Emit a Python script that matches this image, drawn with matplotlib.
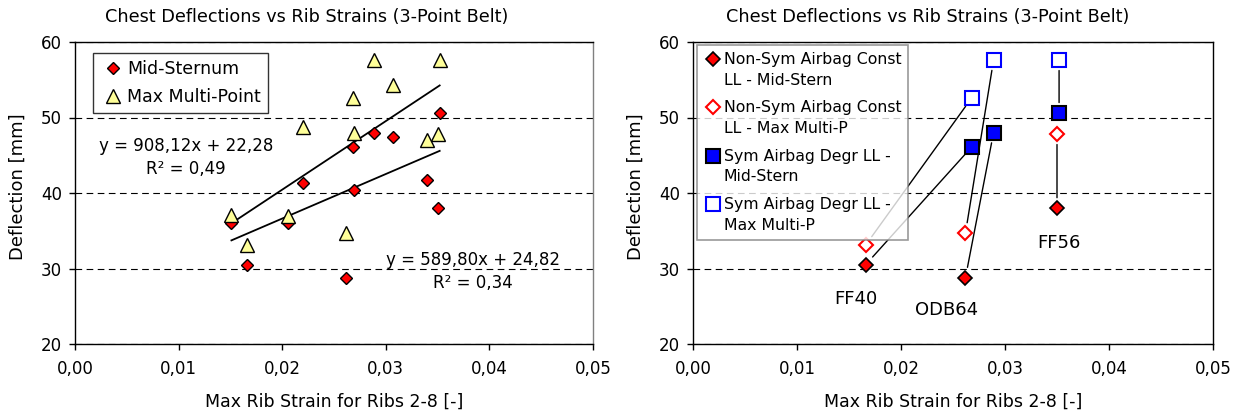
import numpy as np
import matplotlib.pyplot as plt
from matplotlib.legend_handler import HandlerLine2D
from matplotlib.ticker import FuncFormatter, MultipleLocator

# all 3-point belt tests: max rib strain (ribs 2-8) vs chest deflection [mm]
rib_strain = [0.0151, 0.0166, 0.0206, 0.0220, 0.0262, 0.0268,
              0.0269, 0.0289, 0.0307, 0.0340, 0.0350, 0.0352]
mid_sternum = [36.0, 30.5, 36.0, 41.3, 28.8, 46.1,
               40.4, 48.0, 47.4, 41.7, 38.0, 50.6]
max_multi_point = [37.1, 33.1, 36.9, 48.8, 34.7, 52.6,
                   47.9, 57.6, 54.3, 47.0, 47.8, 57.6]

# linear trend lines (slope, intercept, R^2)
fit_max = (908.12, 22.28, 0.49)
fit_mid = (589.80, 24.82, 0.34)

# airbag comparison per load case
tests = ['FF40', 'ODB64', 'FF56']
nonsym_strain = [0.0166, 0.0262, 0.0350]
nonsym_mid = [30.5, 28.8, 38.0]
nonsym_max = [33.1, 34.7, 47.8]
sym_strain = [0.0268, 0.0289, 0.0352]
sym_mid = [46.1, 48.0, 50.6]
sym_max = [52.6, 57.6, 57.6]
# 'across' links non-sym to sym, 'vertical' links mid to max of the same airbag
link_mode = ['across', 'across', 'vertical']
name_offsets = [(-7, -24.5), (-13.5, -23), (1.5, -25)]

title = 'Chest Deflections vs Rib Strains (3-Point Belt)'
W, H = 1241, 416


def comma_fmt(v, _):
    return f'{v:.2f}'.replace('.', ',')


def style_axes(ax, right_color):
    ax.set_xlim(0, 0.05)
    ax.set_ylim(20, 60)
    ax.xaxis.set_major_locator(MultipleLocator(0.01))
    ax.yaxis.set_major_locator(MultipleLocator(10))
    ax.xaxis.set_major_formatter(FuncFormatter(comma_fmt))
    ax.tick_params(direction='out', length=4.5, width=1, labelsize=12)
    ax.tick_params(axis='x', pad=7)
    ax.tick_params(axis='y', pad=5)
    ax.yaxis.grid(True, color='black', ls=(0, (6, 4)), lw=0.8)
    ax.set_axisbelow(True)
    for s in ['left', 'bottom', 'top']:
        ax.spines[s].set_color('black')
        ax.spines[s].set_linewidth(1.0)
    ax.spines['right'].set_color(right_color)
    ax.spines['right'].set_linewidth(1.0)
    ax.set_xlabel('Max Rib Strain for Ribs 2-8 [-]', fontsize=12.5, va='center')
    ax.xaxis.set_label_coords(0.5, -0.192)
    ax.set_ylabel('Deflection [mm]', fontsize=13, va='center')
    ax.yaxis.set_label_coords(-0.110, 0.52)


class FirstLineHandler(HandlerLine2D):
    # put the legend marker next to the first line of a two-line label
    def create_artists(self, legend, orig_handle, xdescent, ydescent,
                       width, height, fontsize, trans):
        arts = super().create_artists(legend, orig_handle, xdescent, ydescent,
                                      width, height, fontsize, trans)
        for a in arts:
            a.set_ydata(np.asarray(a.get_ydata()) + 0.72 * fontsize)
        return arts


fig = plt.figure(figsize=(W / 100, H / 100), dpi=100)
ax1 = fig.add_axes([75 / W, 72 / H, 518 / W, 302 / H])
ax2 = fig.add_axes([693 / W, 72 / H, 520 / W, 302 / H])

# ---- left: all tests with trend lines
style_axes(ax1, '#808080')
xs = np.array([min(rib_strain), max(rib_strain)])
for slope, icept, _ in (fit_max, fit_mid):
    ax1.plot(xs, slope * xs + icept, color='black', lw=1.3, zorder=2)
ax1.plot(rib_strain, mid_sternum, ls='none', marker='D', ms=6.3,
         mfc='#FF0000', mec='black', mew=1.0, zorder=3, label='Mid-Sternum')
ax1.plot(rib_strain, max_multi_point, ls='none', marker='^', ms=9.5,
         mfc='#FFFF99', mec='black', mew=1.0, zorder=4, label='Max Multi-Point')

for (slope, icept, r2), (tx, ty) in zip((fit_max, fit_mid), ((0.01072, 44.7), (0.0384, 29.6))):
    eq = f'y = {slope:.2f}x + {icept:.2f}'.replace('.', ',')
    rr = f'R² = {r2:.2f}'.replace('.', ',')
    ax1.text(tx, ty, eq + '\n' + rr, fontsize=12, ha='center', va='center',
             multialignment='center', linespacing=1.35, zorder=5)

leg1 = ax1.legend(loc='upper left', bbox_to_anchor=(0.0347, 0.9636), borderaxespad=0,
                  fontsize=12.5, frameon=True, fancybox=False, edgecolor='black',
                  borderpad=0.4, handlelength=1.45, handletextpad=0.1,
                  labelspacing=0.6, numpoints=1)
leg1.get_frame().set_linewidth(1.0)

# ---- right: non-symmetric vs symmetric airbag
style_axes(ax2, 'black')
link_kw = dict(arrowstyle='-', color='black', lw=1.0, shrinkA=7.5, shrinkB=7.5)
for i, mode in enumerate(link_mode):
    if mode == 'across':
        pairs = [((nonsym_strain[i], nonsym_mid[i]), (sym_strain[i], sym_mid[i])),
                 ((nonsym_strain[i], nonsym_max[i]), (sym_strain[i], sym_max[i]))]
    else:
        pairs = [((nonsym_strain[i], nonsym_mid[i]), (nonsym_strain[i], nonsym_max[i])),
                 ((sym_strain[i], sym_mid[i]), (sym_strain[i], sym_max[i]))]
    for p0, p1 in pairs:
        ax2.annotate('', xy=p1, xytext=p0, arrowprops=link_kw, zorder=2)

ax2.plot(nonsym_strain, nonsym_mid, ls='none', marker='D', ms=6.8, mfc='#FF0000',
         mec='black', mew=1.2, zorder=3, label='Non-Sym Airbag Const\nLL - Mid-Stern')
ax2.plot(nonsym_strain, nonsym_max, ls='none', marker='D', ms=6.8, mfc='white',
         mec='#FF0000', mew=1.5, zorder=3, label='Non-Sym Airbag Const\nLL - Max Multi-P')
ax2.plot(sym_strain, sym_mid, ls='none', marker='s', ms=9.5, mfc='#0000FF',
         mec='black', mew=1.5, zorder=3, label='Sym Airbag Degr LL -\nMid-Stern')
ax2.plot(sym_strain, sym_max, ls='none', marker='s', ms=9.5, mfc='white',
         mec='#0000FF', mew=1.5, zorder=3, label='Sym Airbag Degr LL -\nMax Multi-P')

for name, x, y, off in zip(tests, nonsym_strain, nonsym_mid, name_offsets):
    ax2.annotate(name, (x, y), xytext=off, textcoords='offset points',
                 fontsize=13, ha='center', va='center')

handles, labels = ax2.get_legend_handles_labels()
leg2 = ax2.legend(handles, labels, loc='upper left', bbox_to_anchor=(0.0077, 0.99),
                  borderaxespad=0, fontsize=11.3, frameon=True, fancybox=False,
                  edgecolor='#808080', borderpad=0.45, handlelength=1.1,
                  handletextpad=0.15, labelspacing=0.8, numpoints=1,
                  handler_map={h: FirstLineHandler() for h in handles})
for t in leg2.get_texts():
    t.set_linespacing(1.48)
leg2.get_frame().set_linewidth(1.2)
leg2.set_zorder(6)

fig.text(307 / W, 1 - 17 / H, title, fontsize=12.7, ha='center', va='center')
fig.text(928 / W, 1 - 17 / H, title, fontsize=12.7, ha='center', va='center')

fig.savefig('out.png', dpi=100, facecolor='white')
